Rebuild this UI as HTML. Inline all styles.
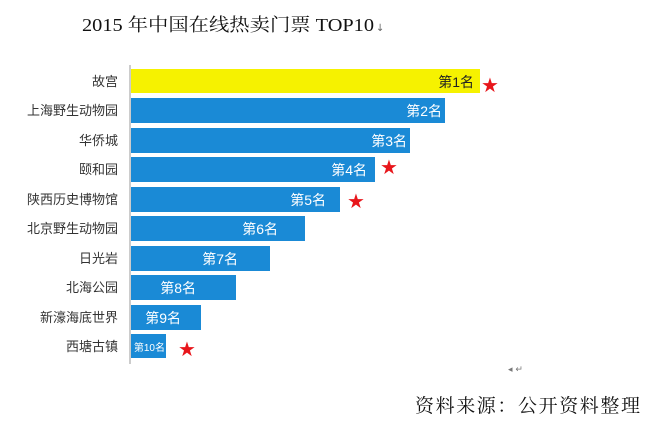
<!DOCTYPE html>
<html><head><meta charset="utf-8"><style>body{margin:0;background:#fff}svg{display:block}</style></head><body>
<svg width="646" height="427" xmlns="http://www.w3.org/2000/svg">
<text x="82" y="31" font-family="'Liberation Serif','Noto Serif CJK SC',serif" font-size="18" fill="#111" textLength="292" lengthAdjust="spacingAndGlyphs">2015 年中国在线热卖门票 TOP10</text>
<text x="376" y="31" font-size="10" fill="#666" font-family="'DejaVu Sans',sans-serif">↓</text>
<line x1="130" y1="65" x2="130" y2="364" stroke="#999" stroke-width="1"/>
<g font-family="'Liberation Sans','Noto Sans CJK SC',sans-serif" font-size="13" fill="#333" text-anchor="end">
<text x="118" y="86">故宫</text>
<text x="118" y="115">上海野生动物园</text>
<text x="118" y="145">华侨城</text>
<text x="118" y="174">颐和园</text>
<text x="118" y="204">陕西历史博物馆</text>
<text x="118" y="233">北京野生动物园</text>
<text x="118" y="263">日光岩</text>
<text x="118" y="292">北海公园</text>
<text x="118" y="322">新濠海底世界</text>
<text x="118" y="351">西塘古镇</text>
</g>
<rect x="131" y="69" width="349" height="24" fill="#f6f200"/>
<g fill="#1a8ad6">
<rect x="131" y="98" width="314" height="25"/>
<rect x="131" y="128" width="279" height="25"/>
<rect x="131" y="157" width="244" height="25"/>
<rect x="131" y="187" width="209" height="25"/>
<rect x="131" y="216" width="174" height="25"/>
<rect x="131" y="246" width="139" height="25"/>
<rect x="131" y="275" width="105" height="25"/>
<rect x="131" y="305" width="70" height="25"/>
<rect x="131" y="334" width="35" height="24"/>
</g>
<g font-family="'Liberation Sans','Noto Sans CJK SC',sans-serif" font-size="14" fill="#fff" text-anchor="end">
<text x="474" y="87" fill="#222">第1名</text>
<text x="442" y="116">第2名</text>
<text x="407" y="146">第3名</text>
<text x="367" y="175">第4名</text>
<text x="326" y="205">第5名</text>
<text x="278" y="234">第6名</text>
<text x="238" y="264">第7名</text>
<text x="196" y="293">第8名</text>
<text x="181" y="323">第9名</text>
<text x="165" y="351" font-size="10">第10名</text>
</g>
<g fill="#e8161b" font-family="'DejaVu Sans',sans-serif" font-size="20" text-anchor="middle">
<text x="490" y="92">★</text>
<text x="389" y="174">★</text>
<text x="356" y="208">★</text>
<text x="187" y="356">★</text>
</g>
<text x="508" y="372" font-size="9" fill="#777" font-family="'DejaVu Sans',sans-serif">◂ ↵</text>
<text x="415" y="412" font-family="'Liberation Serif','Noto Serif CJK SC',serif" font-size="19" fill="#111" textLength="225">资料来源：公开资料整理</text>
</svg>
</body></html>
